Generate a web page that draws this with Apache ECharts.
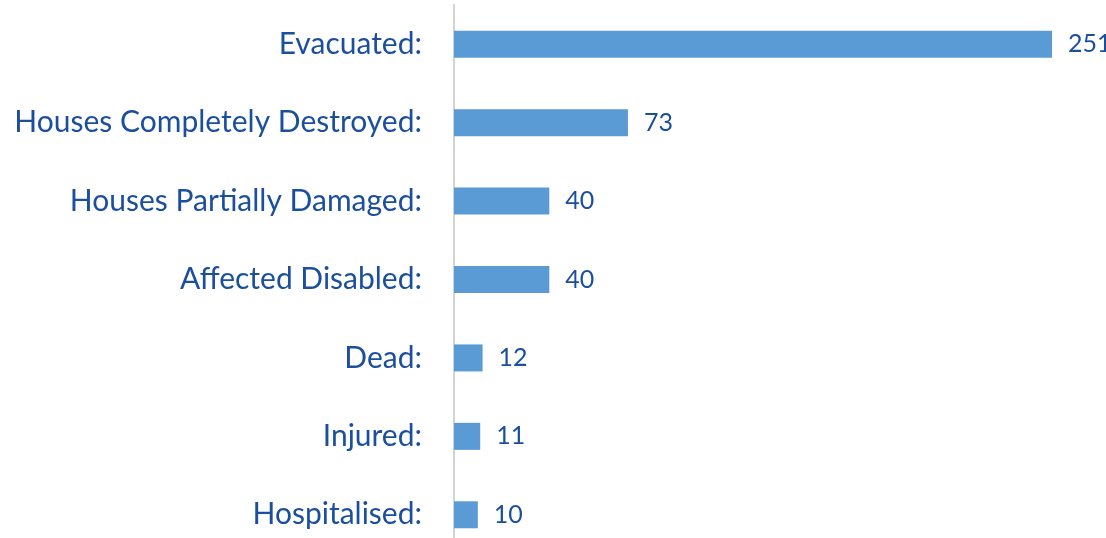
<!DOCTYPE html>
<html><head><meta charset="utf-8">
<script src="https://cdn.jsdelivr.net/npm/echarts@6/dist/echarts.min.js"></script>
<style>html,body{margin:0;padding:0;background:#fff;overflow:hidden}#c{width:1106px;height:554px}</style>
</head><body><div id="c"></div>
<script>
const categories = ["Evacuated:", "Houses Completely Destroyed:", "Houses Partially Damaged:", "Affected Disabled:", "Dead:", "Injured:", "Hospitalised:"];
const values = [251, 73, 40, 40, 12, 11, 10];

const chart = echarts.init(document.getElementById('c'), null, {renderer: 'canvas'});
chart.setOption({
  animation: false,
  grid: {left: 454, top: 5, right: 32.5, bottom: 0, containLabel: false},
  xAxis: {type: 'value', min: 0, max: 260, show: false},
  yAxis: {
    type: 'category', data: categories, inverse: true,
    axisLine: {show: true, lineStyle: {color: '#d4d4d4', width: 2}},
    axisTick: {show: false},
    axisLabel: {color: '#1B4F9E', fontFamily: 'Lato', fontSize: 30, margin: 32}
  },
  series: [{
    type: 'bar', data: values, barWidth: 27,
    itemStyle: {color: '#5B9BD5'},
    label: {show: true, position: 'right', distance: 16, color: '#1B4F9E', fontFamily: 'Lato', fontSize: 25}
  }]
});
</script></body></html>
